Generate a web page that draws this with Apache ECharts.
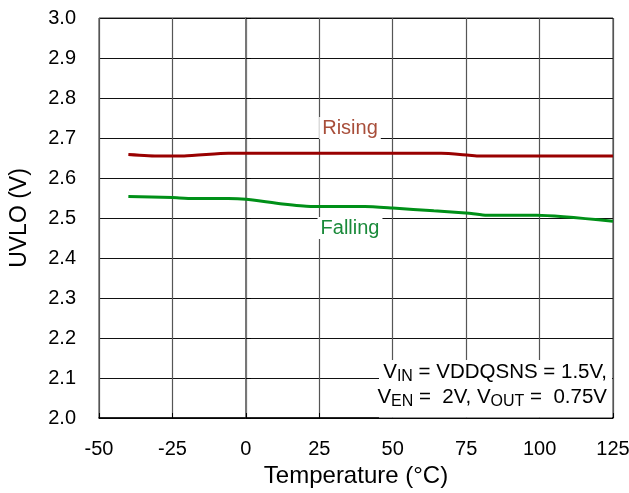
<!DOCTYPE html>
<html>
<head>
<meta charset="utf-8">
<script src="https://cdn.jsdelivr.net/npm/echarts@6/dist/echarts.min.js"></script>
<style>html,body{margin:0;padding:0;background:#fff}#c{width:629px;height:493px}</style>
</head>
<body>
<div id="c"></div>
<script>
var xTicks = [-50, -25, 0, 25, 50, 75, 100, 125];
var yTicks = [2.0, 2.1, 2.2, 2.3, 2.4, 2.5, 2.6, 2.7, 2.8, 2.9, 3.0];
var risingT = [-40, -29.5, -21, -6, 66.5, 76, 79.5, 125];
var risingV = [2.659, 2.655, 2.655, 2.662, 2.662, 2.657, 2.655, 2.655];
var fallingT = [-40, -25, -18, -6, 0, 12.5, 22, 40.5, 50, 64, 76, 82, 99, 125];
var fallingV = [2.554, 2.551, 2.549, 2.549, 2.547, 2.535, 2.529, 2.529, 2.525, 2.518, 2.512, 2.507, 2.507, 2.492];

function pairs(xs, ys) { return xs.map(function (x, i) { return [x, ys[i]]; }); }

var FONT = 'Liberation Sans, Arial, sans-serif';
var chart = echarts.init(document.getElementById('c'), null, { renderer: 'canvas' });
var option = {
  backgroundColor: '#fff',
  animation: false,
  grid: { left: 99, right: 16, top: 18, bottom: 75, show: true, borderColor: '#333', borderWidth: 1,
          containLabel: false, outerBoundsMode: 'none' },
  xAxis: {
    type: 'value', min: -50, max: 125, interval: 25,
    name: 'Temperature (°C)', nameLocation: 'middle', nameGap: 45,
    nameTextStyle: { fontFamily: FONT, fontSize: 24, color: '#000' },
    axisLine: { show: true, lineStyle: { color: '#000', width: 1.5 } },
    axisTick: { show: true, inside: true, length: 5, lineStyle: { color: '#000' } },
    axisLabel: { fontFamily: FONT, fontSize: 20, color: '#000', margin: 21, hideOverlap: false,
      formatter: function (v) { return xTicks.indexOf(v) >= 0 ? String(v) : ''; } },
    splitLine: { show: true, lineStyle: { color: '#555', width: 1.2 } }
  },
  yAxis: {
    type: 'value', min: 2.0, max: 3.0, interval: 0.1,
    name: 'UVLO (V)', nameLocation: 'middle', nameGap: 68, nameRotate: 90,
    nameTextStyle: { fontFamily: FONT, fontSize: 23, color: '#000' },
    axisLine: { show: true, lineStyle: { color: '#777', width: 2 } },
    axisTick: { show: true, inside: true, length: 5, lineStyle: { color: '#000' } },
    axisLabel: { fontFamily: FONT, fontSize: 20, color: '#000', margin: 23, hideOverlap: false,
      formatter: function (v) {
        var t = yTicks.find(function (y) { return Math.abs(y - v) < 1e-6; });
        return t === undefined ? '' : t.toFixed(1);
      } },
    splitLine: { show: true, lineStyle: { color: '#111', width: 1 } }
  },
  series: [
    { name: 'Rising', type: 'line', data: pairs(risingT, risingV), showSymbol: false, symbol: 'none',
      smooth: 0.2, lineStyle: { color: '#990000', width: 3 }, z: 5 },
    { name: 'Falling', type: 'line', data: pairs(fallingT, fallingV), showSymbol: false, symbol: 'none',
      smooth: 0.2, lineStyle: { color: '#009018', width: 3 }, z: 5 }
  ],
  graphic: [
    { type: 'text', z: 10, x: 350, y: 128,
      style: { text: 'Rising', x: 0, y: 0, align: 'center', verticalAlign: 'middle',
        fontFamily: FONT, fontSize: 20, fill: '#a84e3a', backgroundColor: '#fff', padding: [1, 3, 1, 3] } },
    { type: 'text', z: 10, x: 350, y: 228,
      style: { text: 'Falling', x: 0, y: 0, align: 'center', verticalAlign: 'middle',
        fontFamily: FONT, fontSize: 20, fill: '#1a8a3a', backgroundColor: '#fff', padding: [1, 3, 1, 3] } },
    { type: 'rect', z: 8, shape: { x: 379, y: 360, width: 233, height: 57.5 }, style: { fill: '#fff' } },
    { type: 'text', z: 10, x: 607, y: 360,
      style: {
        text: '{n|V}{s|IN}{n| = VDDQSNS = 1.5V,}\n{n|V}{s|EN}{n| =  2V, V}{s|OUT}{n| =  0.75V}',
        align: 'right', verticalAlign: 'top', fill: '#000',
        rich: {
          n: { fontFamily: FONT, fontSize: 20.5, lineHeight: 25, fill: '#000' },
          s: { fontFamily: FONT, fontSize: 16, lineHeight: 18, verticalAlign: 'bottom', fill: '#000' }
        }
      } }
  ]
};
chart.setOption(option);
</script>
</body>
</html>
